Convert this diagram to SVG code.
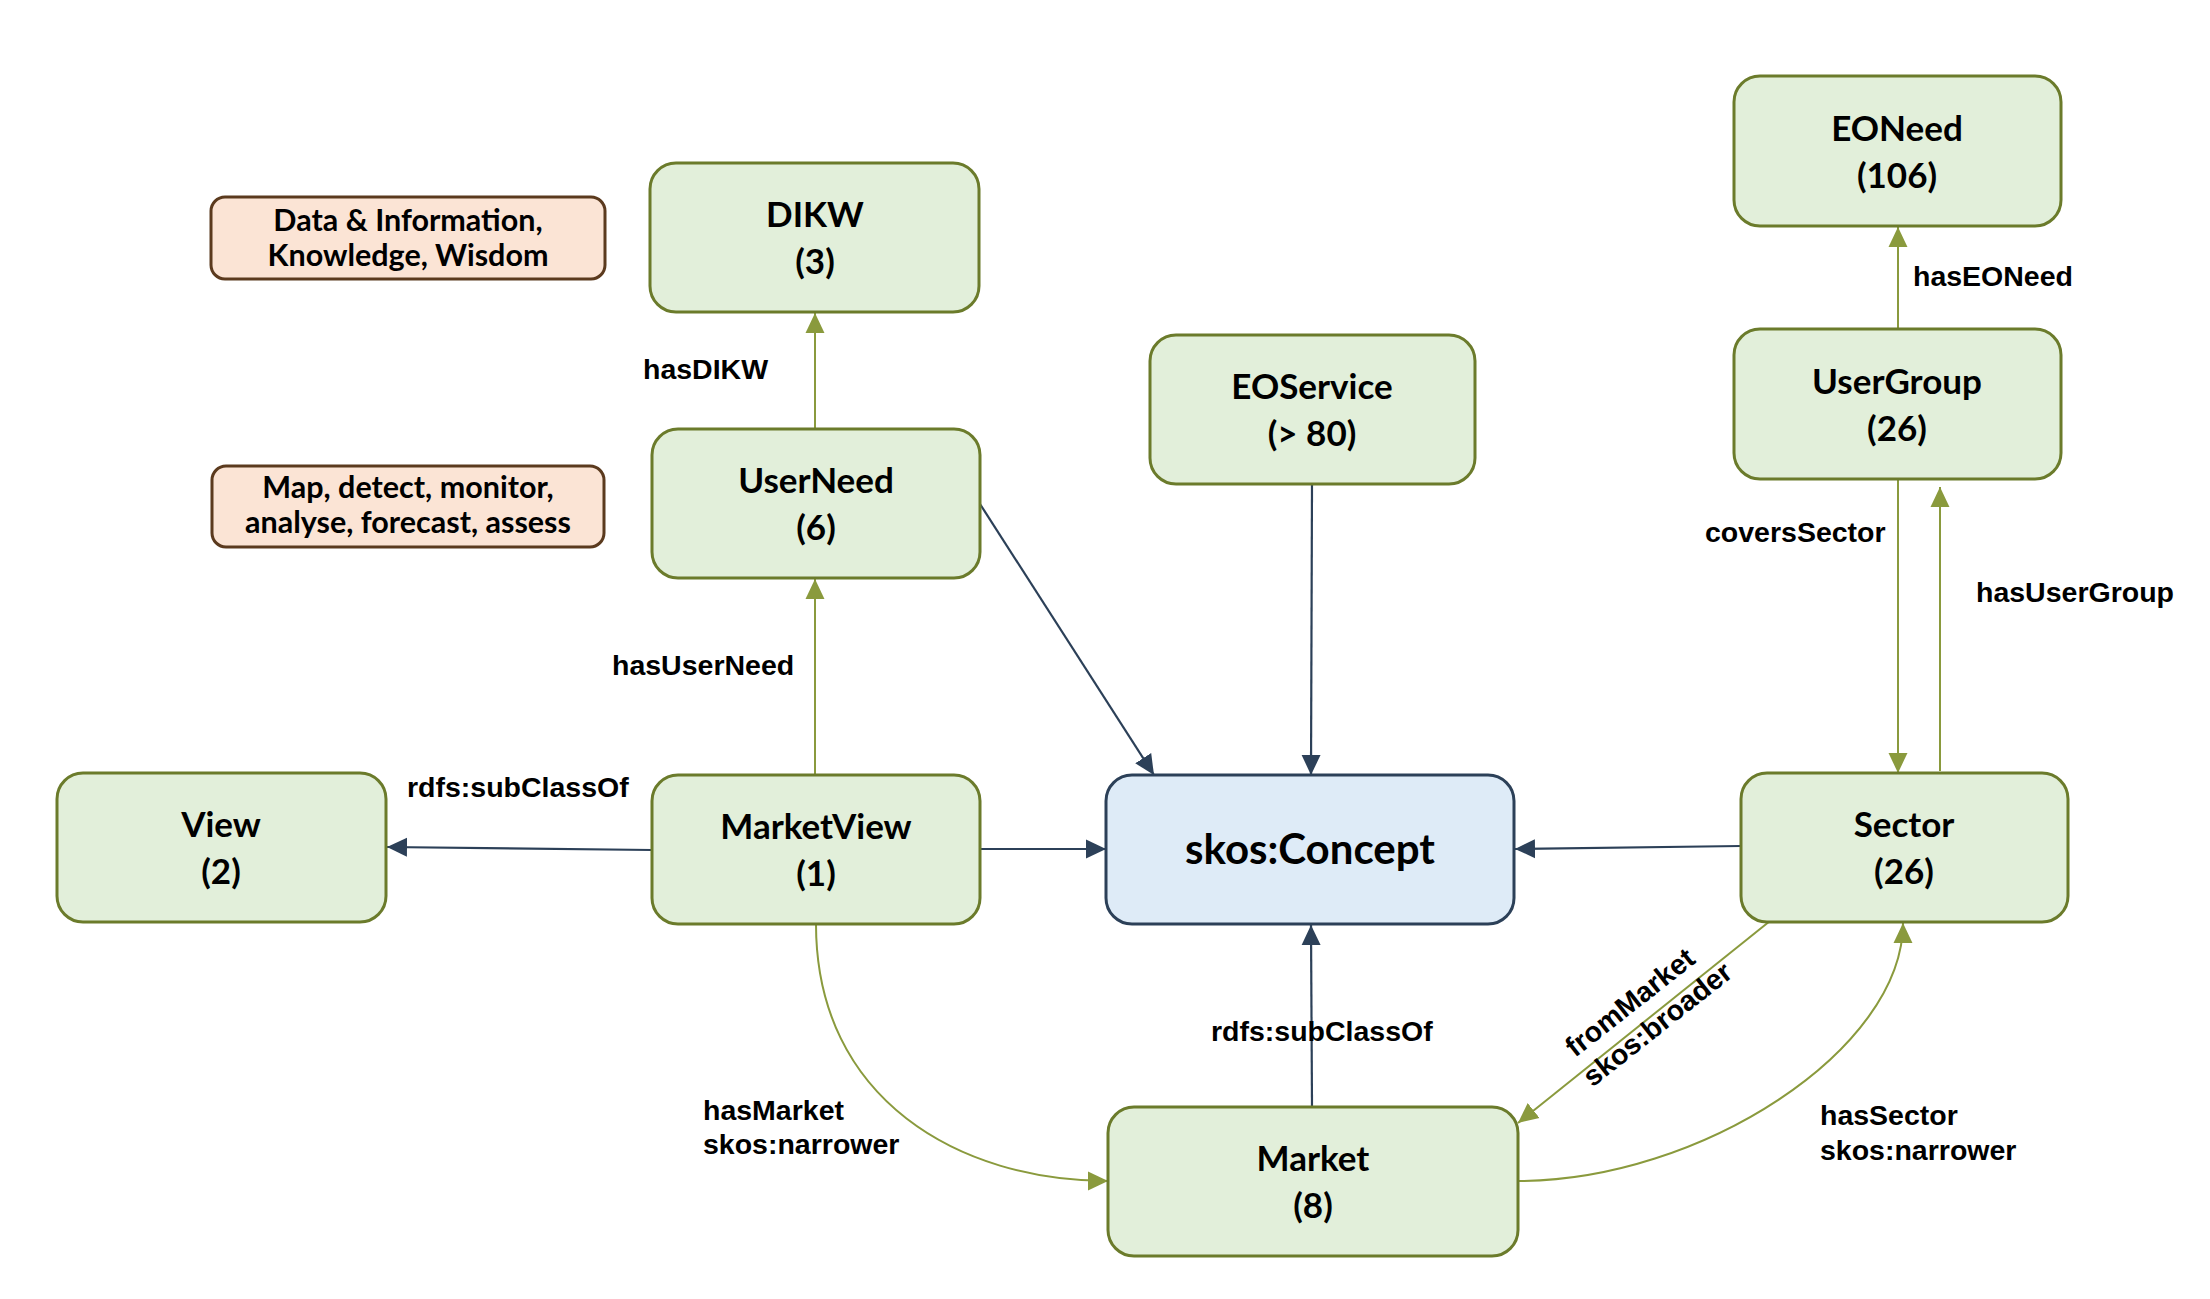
<svg xmlns="http://www.w3.org/2000/svg" width="2210" height="1299" viewBox="0 0 2210 1299">
<style>
.node rect{fill:#E2EFDA;stroke:#6B7B2B;stroke-width:3}
.concept rect{fill:#DEEBF7;stroke:#2C4058;stroke-width:3}
.note rect{fill:#FBE4D5;stroke:#5B3A1E;stroke-width:3}
.nt{font-family:Lato,"Liberation Sans",sans-serif;font-weight:bold;font-size:35px;fill:#000;text-anchor:middle}
.ct{font-family:Lato,"Liberation Sans",sans-serif;font-weight:bold;font-size:42px;fill:#000;text-anchor:middle}
.bt{font-family:Lato,"Liberation Sans",sans-serif;font-weight:bold;font-size:30.5px;fill:#000;text-anchor:middle}
.lbl{font-family:"Liberation Sans",Arial,sans-serif;font-weight:bold;font-size:28.5px;fill:#000}
.g{fill:none;stroke:#8A9A3D;stroke-width:2;marker-end:url(#ag)}
.d{fill:none;stroke:#2C4058;stroke-width:2.2;marker-end:url(#ad)}
</style>
<defs>
<marker id="ag" markerUnits="userSpaceOnUse" markerWidth="20" markerHeight="20" viewBox="0 0 19 18" refX="19" refY="9" orient="auto"><path d="M0,0 L19,9 L0,18 z" fill="#8A9A3D"/></marker>
<marker id="ad" markerUnits="userSpaceOnUse" markerWidth="20" markerHeight="20" viewBox="0 0 19 18" refX="19" refY="9" orient="auto"><path d="M0,0 L19,9 L0,18 z" fill="#2C4058"/></marker>
</defs>
<rect width="2210" height="1299" fill="#FFFFFF"/>
<g id="connectors">
<line class="g" x1="815" y1="429" x2="815" y2="313"/>
<line class="g" x1="815" y1="775" x2="815" y2="579"/>
<line class="d" x1="652" y1="850" x2="387" y2="847"/>
<line class="d" x1="980" y1="849" x2="1106" y2="849"/>
<line class="d" x1="980" y1="504" x2="1154" y2="775"/>
<line class="d" x1="1312" y1="484" x2="1311" y2="775"/>
<line class="d" x1="1741" y1="846" x2="1515" y2="849"/>
<line class="d" x1="1312" y1="1107" x2="1311" y2="925"/>
<line class="g" x1="1898" y1="329" x2="1898" y2="227"/>
<line class="g" x1="1898" y1="479" x2="1898" y2="773"/>
<line class="g" x1="1940" y1="771" x2="1940" y2="487"/>
<line class="g" x1="1770" y1="921" x2="1518" y2="1123"/>
<path class="g" d="M816,924 C816,1100 960,1181 1108,1181"/>
<path class="g" d="M1518,1181 C1700,1181 1903,1050 1903,923"/>
<text class="lbl" x="643" y="379">hasDIKW</text>
<text class="lbl" x="612" y="675">hasUserNeed</text>
<text class="lbl" x="407" y="797">rdfs:subClassOf</text>
<text class="lbl" x="703" y="1120">hasMarket</text>
<text class="lbl" x="703" y="1154">skos:narrower</text>
<text class="lbl" x="1211" y="1041">rdfs:subClassOf</text>
<g transform="translate(1636,1010) rotate(-38.3)">
<text class="lbl" x="0" y="0" text-anchor="middle">fromMarket</text>
<text class="lbl" x="8" y="34" text-anchor="middle">skos:broader</text>
</g>
<text class="lbl" x="1820" y="1125">hasSector</text>
<text class="lbl" x="1820" y="1160">skos:narrower</text>
<text class="lbl" x="1913" y="286">hasEONeed</text>
<text class="lbl" x="1705" y="542">coversSector</text>
<text class="lbl" x="1976" y="602">hasUserGroup</text>
</g>
<g id="note-dikw" class="note">
<rect x="211" y="197" width="394" height="82" rx="14"/>
<text class="bt" x="408" y="231">Data &amp; Information,</text>
<text class="bt" x="408" y="266">Knowledge, Wisdom</text>
</g>
<g id="note-userneed" class="note">
<rect x="212" y="466" width="392" height="81" rx="14"/>
<text class="bt" x="408" y="498">Map, detect, monitor,</text>
<text class="bt" x="408" y="533">analyse, forecast, assess</text>
</g>
<g id="dikw" class="node">
<rect x="650" y="163" width="329" height="149" rx="26"/>
<text class="nt" x="815" y="227">DIKW</text>
<text class="nt" x="815" y="274">(3)</text>
</g>
<g id="userneed" class="node">
<rect x="652" y="429" width="328" height="149" rx="26"/>
<text class="nt" x="816" y="493">UserNeed</text>
<text class="nt" x="816" y="540">(6)</text>
</g>
<g id="marketview" class="node">
<rect x="652" y="775" width="328" height="149" rx="26"/>
<text class="nt" x="816" y="839">MarketView</text>
<text class="nt" x="816" y="886">(1)</text>
</g>
<g id="view" class="node">
<rect x="57" y="773" width="329" height="149" rx="26"/>
<text class="nt" x="221" y="837">View</text>
<text class="nt" x="221" y="884">(2)</text>
</g>
<g id="eoservice" class="node">
<rect x="1150" y="335" width="325" height="149" rx="26"/>
<text class="nt" x="1312" y="399">EOService</text>
<text class="nt" x="1312" y="446">(&gt; 80)</text>
</g>
<g id="eoneed" class="node">
<rect x="1734" y="76" width="327" height="150" rx="26"/>
<text class="nt" x="1897" y="141">EONeed</text>
<text class="nt" x="1897" y="188">(106)</text>
</g>
<g id="usergroup" class="node">
<rect x="1734" y="329" width="327" height="150" rx="26"/>
<text class="nt" x="1897" y="394">UserGroup</text>
<text class="nt" x="1897" y="441">(26)</text>
</g>
<g id="sector" class="node">
<rect x="1741" y="773" width="327" height="149" rx="26"/>
<text class="nt" x="1904" y="837">Sector</text>
<text class="nt" x="1904" y="884">(26)</text>
</g>
<g id="concept" class="concept">
<rect x="1106" y="775" width="408" height="149" rx="26"/>
<text class="ct" x="1310" y="864">skos:Concept</text>
</g>
<g id="market" class="node">
<rect x="1108" y="1107" width="410" height="149" rx="26"/>
<text class="nt" x="1313" y="1171">Market</text>
<text class="nt" x="1313" y="1218">(8)</text>
</g>
</svg>
